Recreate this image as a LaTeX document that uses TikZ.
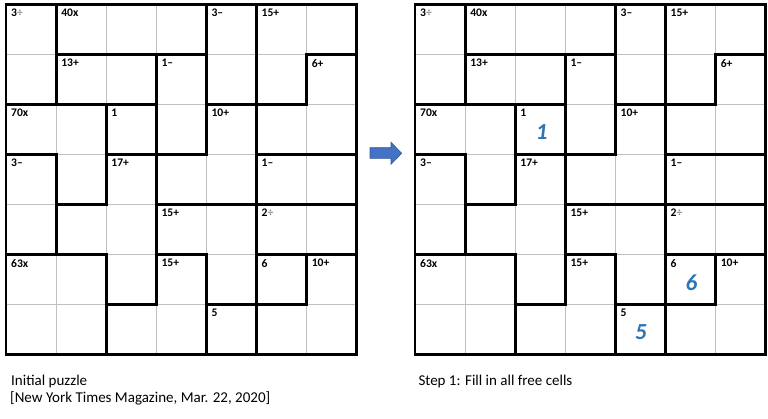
\documentclass[tikz,border=0pt]{standalone}
\usepackage{fontspec}
\setmainfont{Carlito}
\usepackage{tikz}
\usetikzlibrary{positioning}
\definecolor{arrowblue}{HTML}{4472C4}
\definecolor{digitblue}{HTML}{2E75B6}
\newcommand{\dv}{\textcolor{black!45}{÷}}
\tikzset{
  thinline/.style={draw=black!25, line width=1pt},
  cage/.style={draw=black, line width=2.9pt, line cap=rect},
  clue/.style={anchor=north west, inner sep=0pt,
    font=\bfseries\fontsize{11.6}{13}\selectfont},
  answer/.style={inner sep=0pt, text=digitblue,
    font=\bfseries\itshape\fontsize{23}{26}\selectfont},
  caption/.style={anchor=base west, inner sep=0pt,
    font=\fontsize{15}{18}\selectfont},
}
\newcommand{\kenken}{%
  % light grid
  \foreach \i in {1,...,6} {
    \draw[thinline] (\i,0) -- (\i,7);
    \draw[thinline] (0,\i) -- (7,\i);
  }
  % cage walls, vertical (row/col)
  \foreach \r/\c in {0/1,0/4,0/5, 1/1,1/3,1/4,1/5,1/6, 2/2,2/3,2/4,2/5,
      3/1,3/2,3/3,3/5, 4/1,4/3,4/5, 5/2,5/3,5/4,5/5,5/6, 6/2,6/4,6/5}
    {\draw[cage] (\c,\r) -- (\c,\r+1);}
  % cage walls, horizontal (row/col)
  \foreach \r/\c in {1/1,1/2,1/3,1/6, 2/0,2/1,2/2,2/4,2/5, 3/0,3/2,3/3,3/5,3/6,
      4/1,4/3,4/4,4/5,4/6, 5/0,5/1,5/3,5/5,5/6, 6/2,6/4,6/5}
    {\draw[cage] (\c,\r) -- (\c+1,\r);}
  \draw[cage] (0,0) rectangle (7,7);
  % clues
  \foreach \r/\c/\t in {0/0/3\dv, 0/1/40x, 0/4/3\textendash, 0/5/15+,
      1/1/13+, 1/3/1\textendash, 1/6/6+, 2/0/70x, 2/2/1, 2/4/10+,
      3/0/3\textendash, 3/2/17+, 3/5/1\textendash, 4/3/15+, 4/5/2\dv,
      5/0/63x, 5/3/15+, 5/5/6, 5/6/10+, 6/4/5}
    {\node[clue] (clue\r\c) at (\c+0.1,\r+0.095) {\t};}
}

\begin{document}
\begin{tikzpicture}[x=1pt,y=-1pt]
  \useasboundingbox (0,0) rectangle (768,418);
  \fill[white] (0,0) rectangle (768,418);

  \begin{scope}[shift={(6,4.3)}, x=50.1pt, y=-50pt, name prefix=init-]
    \kenken
  \end{scope}

  \begin{scope}[shift={(415,4.3)}, x=50.1pt, y=-50pt, name prefix=step-]
    \kenken
    \node[answer] (ans22) at (2.53,2.56) {1};
    \node[answer] (ans55) at (5.52,5.57) {6};
    \node[answer] (ans64) at (4.51,6.55) {5};
  \end{scope}

  % step arrow
  \filldraw[fill=arrowblue, draw=arrowblue!75!black, line width=0.6pt]
    (370,147.7) -- (391,147.7) -- (391,142.3) -- (401.7,153.3)
    -- (391,164.3) -- (391,158.3) -- (370,158.3) -- cycle;

  \node[caption] (cap1) at (11,385.7) {Initial puzzle};
  \node[caption] (cap2) at (10,402.7) {[New York Times Magazine, Mar. 22, 2020]};
  \node[caption] (cap3) at (418.3,385.7) {Step 1: Fill in all free cells};
\end{tikzpicture}
\end{document}
